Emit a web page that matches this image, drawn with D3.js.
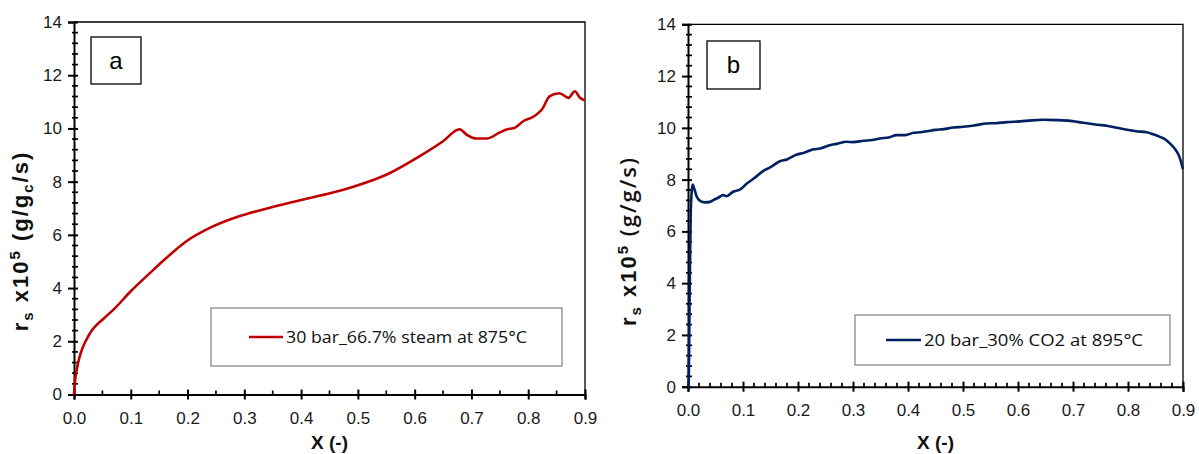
<!DOCTYPE html>
<html>
<head>
<meta charset="utf-8">
<script src="https://cdn.jsdelivr.net/npm/d3@7/dist/d3.min.js"></script>
<style>
  html, body { margin: 0; padding: 0; background: #fff; }
  svg { display: block; }
</style>
</head>
<body>
<svg id="chart" width="1199" height="454"></svg>
<script>
// ---------- DATA ----------
const xTickValues = [0, 0.1, 0.2, 0.3, 0.4, 0.5, 0.6, 0.7, 0.8, 0.9];
const yTickValues = [0, 2, 4, 6, 8, 10, 12, 14];

const panelLabels = ["a", "b"];
const legendLabels = ["30 bar_66.7% steam at 875°C", "20 bar_30% CO2 at 895°C"];

// Panel a: 30 bar, 66.7% steam, 875°C
const steamX = [0, 0.002, 0.005, 0.009, 0.016, 0.024, 0.031, 0.04, 0.052, 0.07, 0.1, 0.134, 0.163, 0.198, 0.24, 0.287, 0.345, 0.404,
  0.451, 0.492, 0.551, 0.609, 0.65, 0.679, 0.692, 0.709, 0.727, 0.75, 0.762, 0.777, 0.791, 0.809, 0.824,
  0.838, 0.855, 0.871, 0.882, 0.891, 0.9];
const steamY = [0, 0.55, 0.95, 1.35, 1.8, 2.15, 2.4, 2.62, 2.85, 3.2, 3.88, 4.57, 5.14, 5.76, 6.27, 6.67, 7.02, 7.33,
  7.56, 7.81, 8.27, 8.96, 9.52, 9.97, 9.76, 9.62, 9.62, 9.85, 9.96, 10.03, 10.27, 10.44, 10.71,
  11.21, 11.32, 11.15, 11.4, 11.15, 11.05];

// Panel b: 20 bar, 30% CO2, 895°C
const co2X = [0, 0.001, 0.003, 0.005, 0.0085, 0.012, 0.016, 0.022, 0.031, 0.04, 0.046, 0.055, 0.064, 0.07, 0.082,
  0.095, 0.107, 0.12, 0.137, 0.15, 0.167, 0.18, 0.198, 0.21, 0.228, 0.24, 0.258, 0.27, 0.289, 0.3,
  0.319, 0.335, 0.349, 0.365, 0.379, 0.395, 0.41, 0.422, 0.437, 0.45, 0.465, 0.482, 0.5, 0.52, 0.543,
  0.56, 0.58, 0.604, 0.625, 0.646, 0.67, 0.695, 0.71, 0.725, 0.745, 0.761, 0.78, 0.798, 0.815, 0.834,
  0.846, 0.858, 0.868, 0.876, 0.883, 0.889, 0.894, 0.898, 0.9];
const co2Y = [0, 0, 3.5, 6.8, 7.81, 7.6, 7.34, 7.18, 7.12, 7.14, 7.21, 7.3, 7.40, 7.36, 7.53,
  7.62, 7.85, 8.05, 8.34, 8.48, 8.71, 8.78, 8.97, 9.03, 9.17, 9.2, 9.33, 9.38, 9.46, 9.45,
  9.50, 9.53, 9.59, 9.63, 9.72, 9.72, 9.81, 9.83, 9.88, 9.92, 9.95, 10.01, 10.04, 10.09, 10.17,
  10.18, 10.22, 10.25, 10.29, 10.31, 10.3, 10.27, 10.22, 10.18, 10.12, 10.08, 10.0, 9.93, 9.87, 9.83,
  9.75, 9.65, 9.55, 9.40, 9.25, 9.07, 8.85, 8.56, 8.4];

// ---------- DRAWING ----------
const svg = d3.select("#chart");
const tickFont = "'Liberation Sans', Arial, sans-serif";

const panels = [
  {
    xs: steamX, ys: steamY, color: "#C00000", label: panelLabels[0], legend: legendLabels[0],
    left: 74, right: 585, top: 22, bottom: 394.5, xMinorStep: 0.05,
    labelBox: [91, 37, 50, 47], legendBox: [211, 308, 351, 58], legendLine: [249, 283, 337], legendTextW: 241,
    titleX: 28, titleY: 241, titleSub: "c"
  },
  {
    xs: co2X, ys: co2Y, color: "#002060", label: panelLabels[1], legend: legendLabels[1],
    left: 688, right: 1183, top: 24.3, bottom: 386.7, xMinorStep: 0.02,
    labelBox: [707, 41, 53, 48], legendBox: [855, 315, 315, 50], legendLine: [886, 921, 340], legendTextW: 219,
    titleX: 636, titleY: 241, titleSub: null
  }
];

panels.forEach(p => {
  const x = d3.scaleLinear().domain([0, 0.9]).range([p.left, p.right]);
  const y = d3.scaleLinear().domain([0, 14]).range([p.bottom, p.top]);
  const g = svg.append("g");

  // frame (top & right)
  g.append("path")
    .attr("d", `M${p.left},${p.top}H${p.right}V${p.bottom}`)
    .attr("fill", "none").attr("stroke", "#000").attr("stroke-width", 1.3);

  // minor ticks
  const xMinor = d3.range(0, 0.9 + 1e-9, p.xMinorStep).filter(v => Math.abs(Math.round(v * 10) - v * 10) > 1e-6);
  g.selectAll(".xminor").data(xMinor).join("line")
    .attr("x1", d => x(d)).attr("x2", d => x(d))
    .attr("y1", p.bottom - 4).attr("y2", p.bottom + 1)
    .attr("stroke", "#000").attr("stroke-width", 1.7);
  const yMinor = d3.range(0, 14 + 1e-9, 0.4).filter(v => Math.abs(v / 2 - Math.round(v / 2)) > 1e-6);
  g.selectAll(".yminor").data(yMinor).join("line")
    .attr("x1", p.left - 2).attr("x2", p.left + 4)
    .attr("y1", d => y(d)).attr("y2", d => y(d))
    .attr("stroke", "#000").attr("stroke-width", 1.7);

  // x axis
  const xAxis = d3.axisBottom(x).tickValues(xTickValues).tickFormat(d3.format(".1f")).tickSize(5).tickPadding(12);
  const gx = g.append("g").attr("transform", `translate(0,${p.bottom})`).call(xAxis);
  gx.select(".domain").attr("stroke-width", 2);
  gx.selectAll(".tick line").attr("y1", -5).attr("y2", 5).attr("stroke-width", 2);
  gx.selectAll(".tick text").attr("font-family", tickFont).attr("font-size", 17).attr("fill", "#1a1a1a");

  // y axis
  const yAxis = d3.axisLeft(y).tickValues(yTickValues).tickFormat(d3.format("d")).tickSize(6).tickPadding(6);
  const gy = g.append("g").attr("transform", `translate(${p.left},0)`).call(yAxis);
  gy.select(".domain").attr("stroke-width", 2);
  gy.selectAll(".tick line").attr("x1", -6).attr("x2", 4).attr("stroke-width", 2);
  gy.selectAll(".tick text").attr("font-family", tickFont).attr("font-size", 17).attr("fill", "#1a1a1a");

  // axis titles
  g.append("text")
    .attr("x", (p.left + p.right) / 2).attr("y", 449)
    .attr("text-anchor", "middle").attr("font-family", tickFont)
    .attr("font-weight", "bold").attr("font-size", 19).attr("fill", "#111")
    .text("X (-)");

  const t = g.append("text")
    .attr("transform", `translate(${p.titleX},${p.titleY}) rotate(-90)`)
    .attr("text-anchor", "middle").attr("font-family", tickFont)
    .attr("font-weight", "bold").attr("font-size", 22).attr("letter-spacing", 2).attr("fill", "#111");
  t.append("tspan").text("r");
  t.append("tspan").attr("font-size", 15).attr("dy", 5).text("s");
  t.append("tspan").attr("dy", -5).text(" x10");
  t.append("tspan").attr("font-size", 15).attr("dy", -8).text("5");
  if (p.titleSub) {
    t.append("tspan").attr("dy", 8).text(" (g/g");
    t.append("tspan").attr("font-size", 15).attr("dy", 5).text(p.titleSub);
    t.append("tspan").attr("dy", -5).text("/s)");
  } else {
    t.append("tspan").attr("dy", 8).attr("font-family", "'Open Sans', 'Noto Sans', sans-serif")
      .attr("font-weight", 600).text(" (g/g/s)");
  }

  // series line
  const pts = p.xs.map((v, i) => [v, p.ys[i]]);
  g.append("path").datum(pts)
    .attr("fill", "none").attr("stroke", p.color).attr("stroke-width", 2.6)
    .attr("stroke-linejoin", "round")
    .attr("d", d3.line().x(d => x(d[0])).y(d => y(d[1])).curve(d3.curveMonotoneX));

  // panel label box
  const [bx, by, bw, bh] = p.labelBox;
  g.append("rect").attr("x", bx).attr("y", by).attr("width", bw).attr("height", bh)
    .attr("fill", "#fff").attr("stroke", "#000").attr("stroke-width", 1.3);
  g.append("text").attr("x", bx + bw / 2).attr("y", by + bh / 2 + 8)
    .attr("text-anchor", "middle").attr("font-family", tickFont).attr("font-size", 24).attr("fill", "#000")
    .text(p.label);

  // legend
  const [lx, ly, lw, lh] = p.legendBox;
  g.append("rect").attr("x", lx).attr("y", ly).attr("width", lw).attr("height", lh)
    .attr("fill", "#fff").attr("stroke", "#666").attr("stroke-width", 1);
  const [l1, l2, lyy] = p.legendLine;
  g.append("line").attr("x1", l1).attr("x2", l2).attr("y1", lyy).attr("y2", lyy)
    .attr("stroke", p.color).attr("stroke-width", 2.6);
  g.append("text").attr("x", l2 + 3).attr("y", lyy + 6)
    .attr("font-family", "'Open Sans', 'Noto Sans', sans-serif").attr("font-size", 17).attr("fill", "#111")
    .attr("textLength", p.legendTextW).attr("lengthAdjust", "spacingAndGlyphs")
    .text(p.legend);
});
</script>
</body>
</html>
